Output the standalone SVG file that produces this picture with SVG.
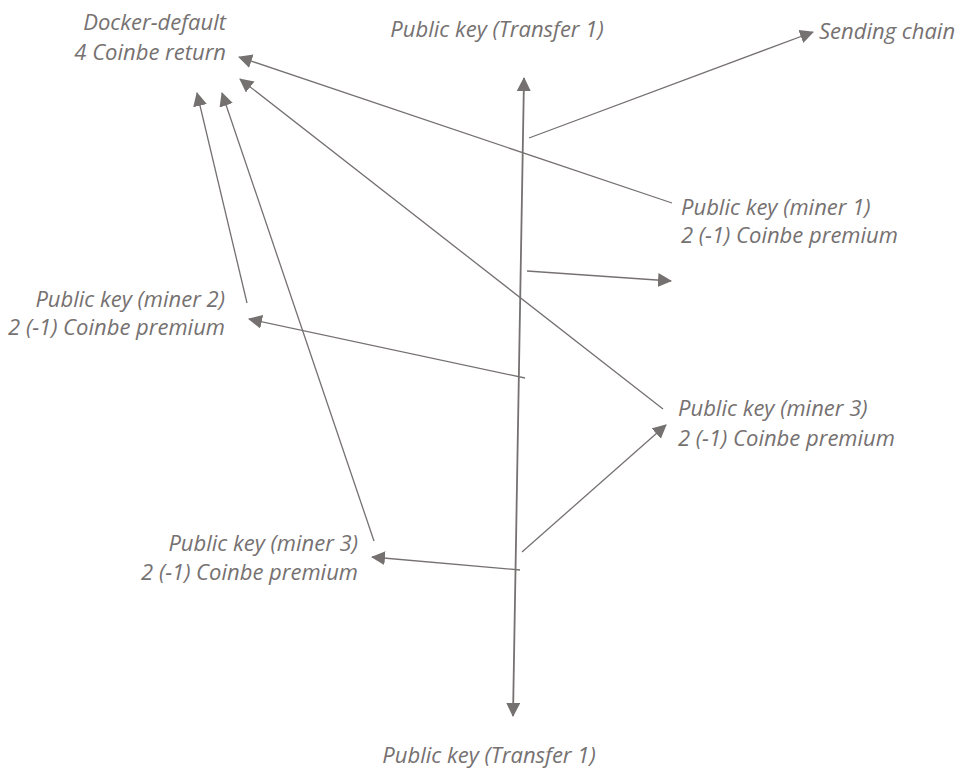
<svg xmlns="http://www.w3.org/2000/svg" width="957" height="769" viewBox="0 0 957 769">
  <style>
    .lbl { font-family: "Open Sans", "Liberation Sans", sans-serif; font-style: italic; font-size: 22px; fill: #767171; }
    .end { text-anchor: end; }
    .mid { text-anchor: middle; }
    .c { stroke: #767171; stroke-width: 1.3; fill: none; marker-end: url(#ah); }
    .axis { stroke: #767171; stroke-width: 1.8; fill: none; marker-start: url(#ah); marker-end: url(#ah); }
  </style>
  <defs>
    <marker id="ah" markerUnits="userSpaceOnUse" markerWidth="16" markerHeight="16" refX="13" refY="7" orient="auto-start-reverse">
      <path d="M0,0 L14,7 L0,14 Z" fill="#767171"/>
    </marker>
  </defs>
  <rect width="957" height="769" fill="#ffffff"/>

  <g id="connectors">
    <line class="axis" x1="524" y1="78" x2="513" y2="716"/>
    <line class="c" x1="529" y1="138" x2="813" y2="32"/>
    <line class="c" x1="672" y1="203" x2="239" y2="57"/>
    <line class="c" x1="663" y1="409" x2="240" y2="79"/>
    <line class="c" x1="247" y1="303" x2="197" y2="93"/>
    <line class="c" x1="374" y1="541" x2="222" y2="93"/>
    <line class="c" x1="525" y1="378" x2="249" y2="319"/>
    <line class="c" x1="527" y1="271" x2="671" y2="281"/>
    <line class="c" x1="522" y1="552" x2="666" y2="425"/>
    <line class="c" x1="520" y1="570" x2="372" y2="557"/>
  </g>

  <g id="docker-default">
    <text class="lbl end" x="226" y="30">Docker-default</text>
    <text class="lbl end" x="226" y="60">4 Coinbe return</text>
  </g>
  <g id="transfer-top">
    <text class="lbl mid" x="497" y="37">Public key (Transfer 1)</text>
  </g>
  <g id="sending-chain">
    <text class="lbl" x="819" y="39">Sending chain</text>
  </g>
  <g id="miner1">
    <text class="lbl" x="681" y="215">Public key (miner 1)</text>
    <text class="lbl" x="681" y="243">2 (-1) Coinbe premium</text>
  </g>
  <g id="miner2">
    <text class="lbl end" x="225" y="307">Public key (miner 2)</text>
    <text class="lbl end" x="225" y="335">2 (-1) Coinbe premium</text>
  </g>
  <g id="miner3-right">
    <text class="lbl" x="678" y="416">Public key (miner 3)</text>
    <text class="lbl" x="678" y="446">2 (-1) Coinbe premium</text>
  </g>
  <g id="miner3-left">
    <text class="lbl end" x="358" y="551">Public key (miner 3)</text>
    <text class="lbl end" x="358" y="580">2 (-1) Coinbe premium</text>
  </g>
  <g id="transfer-bottom">
    <text class="lbl mid" x="489" y="763">Public key (Transfer 1)</text>
  </g>
</svg>
